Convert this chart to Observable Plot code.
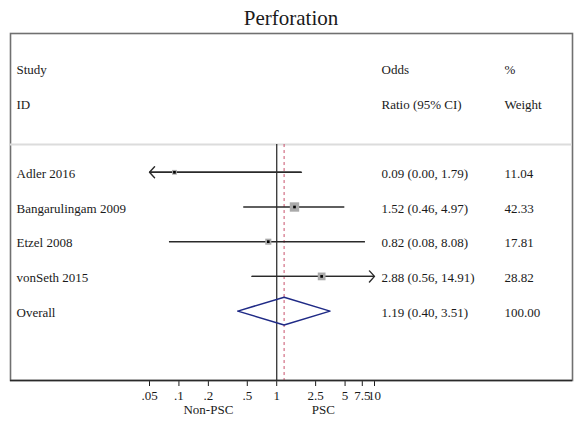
<!DOCTYPE html>
<html>
<head>
<meta charset="utf-8">
<script src="https://cdn.jsdelivr.net/npm/d3@7"></script>
<script src="https://cdn.jsdelivr.net/npm/@observablehq/plot@0.6"></script>
<style>
  html, body { margin: 0; padding: 0; background: #fff; }
  #title { width: 570px; padding-left: 6px; height: 28px; line-height: 28px; text-align: center;
           font-family: "Liberation Serif", "Times New Roman", serif; font-size: 21px; color: #1a1a1a;
           position: relative; top: 4px; }
  #chart svg { display: block; font-family: "Liberation Serif", "Times New Roman", serif !important; font-size: 13px; }
  #chart svg text { font-family: "Liberation Serif", "Times New Roman", serif !important; }
</style>
</head>
<body>
<div id="title">Perforation</div>
<div id="chart"></div>
<script>
// ---- Data ----
const studies = ["Adler 2016", "Bangarulingam 2009", "Etzel 2008", "vonSeth 2015"];
const oddsRatios = [0.09, 1.52, 0.82, 2.88];
const lowerCI = [0.00, 0.46, 0.08, 0.56];
const upperCI = [1.79, 4.97, 8.08, 14.91];
const weights = [11.04, 42.33, 17.81, 28.82];

const overallLabel = "Overall";
const overallOR = 1.19;
const overallLower = 0.40;
const overallUpper = 3.51;
const overallWeight = 100.00;

const headerRow1 = ["Study", "Odds", "%"];
const headerRow2 = ["ID", "Ratio (95% CI)", "Weight"];

const tickValues = [0.05, 0.1, 0.2, 0.5, 1, 2.5, 5, 7.5, 10];
const tickLabels = [".05", ".1", ".2", ".5", "1", "2.5", "5", "7.5", "10"];
const axisMin = 0.05, axisMax = 10;

const sideLabels = ["Non-PSC", "PSC"];
const sideLabelAt = [0.2, 3];

// ---- Build tables ----
const fmt = v => v.toFixed(2);
const rows = studies.map((s, i) => ({
  study: s, or: oddsRatios[i], lo: lowerCI[i], hi: upperCI[i], w: weights[i], row: 3 + i,
  loC: Math.max(lowerCI[i], axisMin), hiC: Math.min(upperCI[i], axisMax),
  ciText: `${fmt(oddsRatios[i])} (${fmt(lowerCI[i])}, ${fmt(upperCI[i])})`,
  wText: fmt(weights[i])
}));
const overallRow = 3 + studies.length;
const textRows = [
  ...rows.map(d => ({label: d.study, ci: d.ciText, w: d.wText, row: d.row})),
  {label: overallLabel, ci: `${fmt(overallOR)} (${fmt(overallLower)}, ${fmt(overallUpper)})`, w: fmt(overallWeight), row: overallRow}
];
const headers = [
  {a: headerRow1[0], b: headerRow1[1], c: headerRow1[2], row: 0},
  {a: headerRow2[0], b: headerRow2[1], c: headerRow2[2], row: 1}
];
const dH = 0.4;
const diamond = [
  {x: overallLower, y: overallRow},
  {x: overallOR, y: overallRow - dH},
  {x: overallUpper, y: overallRow},
  {x: overallOR, y: overallRow + dH},
  {x: overallLower, y: overallRow}
];
const leftClipped = rows.filter(d => d.lo < axisMin);
const rightClipped = rows.filter(d => d.hi > axisMax);
const sides = sideLabels.map((t, i) => ({t, x: sideLabelAt[i]}));
const ticks = tickValues.map((v, i) => ({v, label: tickLabels[i]}));

const sepRow = 2.2, axisRow = 9;
const serif = "Liberation Serif";
const textStyle = {fontSize: 13, fontFamily: serif, fill: "#1a1a1a", lineAnchor: "middle", dy: 1.5};

const chart = Plot.plot({
  width: 576,
  height: 393,
  marginTop: 5,
  marginBottom: 41,
  marginLeft: 10,
  marginRight: 4,
  style: {fontFamily: serif, fontSize: "13px", color: "#1a1a1a", background: "#fff"},
  x: {type: "log", domain: [axisMin, axisMax], range: [149, 374], ticks: tickValues,
      tickFormat: () => "", tickSize: 6, tickPadding: 2, label: null},
  y: {type: "linear", domain: [-1, axisRow], reverse: true, axis: null},
  r: {type: "sqrt", range: [0, 5.3]},
  marks: [
    Plot.frame({stroke: "#707070", strokeWidth: 1.6}),
    Plot.ruleY([sepRow], {stroke: "#dcdcdc", strokeWidth: 2}),
    Plot.ruleX([1], {y1: sepRow, y2: axisRow, stroke: "#333", strokeWidth: 1.3}),
    Plot.ruleX([overallOR], {y1: sepRow, y2: axisRow, stroke: "#c8506a", strokeWidth: 1, strokeDasharray: "3,3"}),
    Plot.ruleY(rows, {y: "row", x1: "loC", x2: "hiC", stroke: "#2a2a2a", strokeWidth: 1.4}),
    Plot.arrow(leftClipped, {x1: "hiC", x2: "loC", y1: "row", y2: "row", stroke: "#2a2a2a", strokeWidth: 1.4, headAngle: 95, headLength: 8}),
    Plot.arrow(rightClipped, {x1: "loC", x2: "hiC", y1: "row", y2: "row", stroke: "#2a2a2a", strokeWidth: 1.4, headAngle: 95, headLength: 8}),
    Plot.dot(rows, {x: "or", y: "row", r: "w", symbol: "square", fill: "#aaaaaa", stroke: "none"}),
    Plot.dot(rows, {x: "or", y: "row", r: 1.5, symbol: "square", fill: "#000", stroke: "none"}),
    Plot.line(diamond, {x: "x", y: "y", stroke: "#1f2a86", strokeWidth: 1.5}),
    Plot.ruleY([axisRow], {stroke: "#2a2a2a", strokeWidth: 1.6}),
    // table texts
    Plot.text(headers, {y: "row", text: "a", frameAnchor: "left", dx: 6, textAnchor: "start", ...textStyle}),
    Plot.text(headers, {y: "row", text: "b", frameAnchor: "left", dx: 371, textAnchor: "start", ...textStyle}),
    Plot.text(headers, {y: "row", text: "c", frameAnchor: "left", dx: 494, textAnchor: "start", ...textStyle}),
    Plot.text(textRows, {y: "row", text: "label", frameAnchor: "left", dx: 6, textAnchor: "start", ...textStyle}),
    Plot.text(textRows, {y: "row", text: "ci", frameAnchor: "left", dx: 371, textAnchor: "start", ...textStyle}),
    Plot.text(textRows, {y: "row", text: "w", frameAnchor: "left", dx: 494, textAnchor: "start", ...textStyle}),
    // axis tick labels and side labels
    Plot.text(ticks, {x: "v", text: "label", frameAnchor: "bottom", dy: 15, fontSize: 13, fontFamily: serif, fill: "#1a1a1a", lineAnchor: "middle"}),
    Plot.text(sides, {x: "x", text: "t", frameAnchor: "bottom", dy: 29, fontSize: 13, fontFamily: serif, fill: "#1a1a1a", lineAnchor: "middle"})
  ]
});
document.getElementById("chart").appendChild(chart);
</script>
</body>
</html>
